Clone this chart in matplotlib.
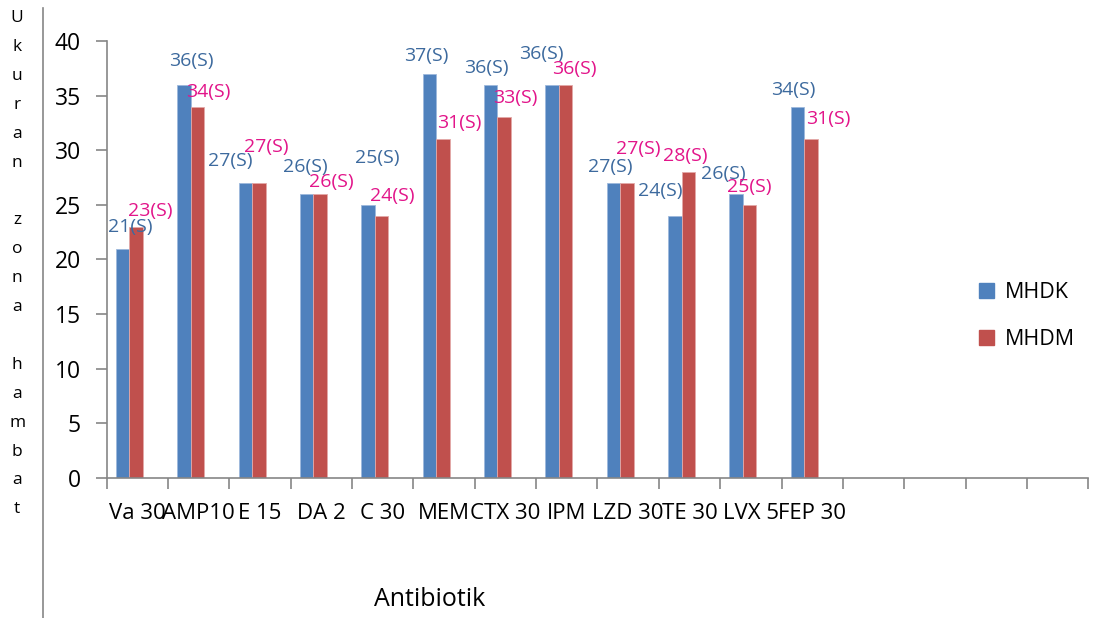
import numpy as np
import matplotlib
matplotlib.use("Agg")
import matplotlib.pyplot as plt
from matplotlib.lines import Line2D
from matplotlib.patches import Patch

plt.rcParams['font.family'] = ['Open Sans', 'DejaVu Sans']

# antibiotic discs and inhibition zone sizes (mm)
antibiotics = ['Va 30', 'AMP10', 'E 15', 'DA 2', 'C 30', 'MEM', 'CTX 30', 'IPM',
               'LZD 30', 'TE 30', 'LVX 5', 'FEP 30', '', '', '', '']
mhdk = [21, 36, 27, 26, 25, 37, 36, 36, 27, 24, 26, 34]
mhdm = [23, 34, 27, 26, 24, 31, 33, 36, 27, 28, 25, 31]
mhdk_labels = ['21(S)', '36(S)', '27(S)', '26(S)', '25(S)', '37(S)', '36(S)', '36(S)',
               '27(S)', '24(S)', '26(S)', '34(S)']
mhdm_labels = ['23(S)', '34(S)', '27(S)', '26(S)', '24(S)', '31(S)', '33(S)', '36(S)',
               '27(S)', '28(S)', '25(S)', '31(S)']

# label nudges in pixels (dx, dy above bar top)
mhdk_off = [(8, 22), (7, 24), (-15, 22), (-1, 27), (9, 47), (-3, 18), (-4, 17), (-11, 31),
            (-3, 16), (-15, 25), (-13, 20), (-4, 17)]
mhdm_off = [(14, 16), (11, 15), (7, 36), (11, 12), (11, 20), (16, 16), (11, 19), (9, 16),
            (11, 34), (-3, 16), (0, 18), (17, 20)]

blue = '#4F81BD'
red = '#C0504D'
blue_txt = '#3D6A9E'
red_txt = '#E2158A'
axis_gray = '#868686'

fig = plt.figure(figsize=(11.04, 6.18), dpi=100)
ax = fig.add_axes([0.0967, 0.2265, 0.889, 0.7072])

n = len(antibiotics)
centers = np.arange(n) + 0.5
w = 0.22
# bars sit slightly left of the category centre
xk = centers[:len(mhdk)] - 1.5 * w - 0.02
xm = centers[:len(mhdm)] - 0.5 * w - 0.02
ax.bar(xk, mhdk, width=w, align='edge', color=blue, edgecolor='#9DB9DC', linewidth=0.6)
ax.bar(xm, mhdm, width=w, align='edge', color=red, edgecolor='#E3A9A8', linewidth=0.6)

for x, v, t, (dx, dy) in zip(xk, mhdk, mhdk_labels, mhdk_off):
    ax.annotate(t, (x + w / 2, v), xytext=(dx, dy), textcoords='offset pixels',
                ha='center', va='center', fontsize=14, color=blue_txt, annotation_clip=False)
for x, v, t, (dx, dy) in zip(xm, mhdm, mhdm_labels, mhdm_off):
    ax.annotate(t, (x + w / 2, v), xytext=(dx, dy), textcoords='offset pixels',
                ha='center', va='center', fontsize=14, color=red_txt, annotation_clip=False)

ax.set_xlim(0, n)
ax.set_ylim(0, 40)
ax.set_yticks(range(0, 41, 5))
ax.set_xticks(np.arange(n + 1))
ax.set_xticklabels([])
ax.set_xticks(centers, minor=True)
ax.set_xticklabels(antibiotics, minor=True)
ax.tick_params(axis='x', which='minor', length=0, pad=18, labelsize=16)
ax.tick_params(axis='x', which='major', length=8, width=1.2, color=axis_gray)
ax.tick_params(axis='y', length=8, width=1.2, color=axis_gray, labelsize=16.5, pad=10.5)

for s in ['top', 'right']:
    ax.spines[s].set_visible(False)
for s in ['left', 'bottom']:
    ax.spines[s].set_color(axis_gray)
    ax.spines[s].set_linewidth(1.2)

# legend
handles = [Patch(color=blue), Patch(color=red)]
fig.legend(handles, ['MHDK', 'MHDM'], loc='center left', bbox_to_anchor=(0.869, 0.488),
           frameon=False, fontsize=15.5, handlelength=0.7, handleheight=0.7,
           handletextpad=0.5, labelspacing=1.2)

# axis titles
fig.text(0.389, 0.03, 'Antibiotik', ha='center', va='center', fontsize=18)
title = 'Ukuran zona hambat'
for i, ch in enumerate(title):
    fig.text(0.0155, 1 - (18 + i * 28.9) / 618, ch, ha='center', va='center', fontsize=12.5)

# chart area border
fig.add_artist(Line2D([43 / 1104, 43 / 1104], [0, 1 - 8 / 618], transform=fig.transFigure,
                      color=axis_gray, linewidth=1.2))

fig.savefig('out.png', dpi=100)
